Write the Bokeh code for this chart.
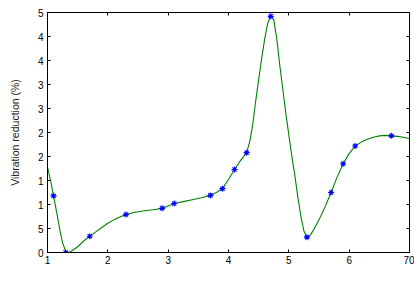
from bokeh.plotting import figure
from bokeh.models import LinearAxis, FixedTicker, Range1d, Label
from bokeh.embed import file_html
from bokeh.resources import INLINE

# measured points (markers)
freq_pts = [1.1, 1.3, 1.7, 2.3, 2.9, 3.1, 3.7, 3.9, 4.1, 4.3, 4.7, 5.3, 5.7, 5.9, 6.1, 6.7]
red_pts = [1.18, 0.0, 0.34, 0.79, 0.92, 1.02, 1.19, 1.33, 1.73, 2.08, 4.92, 0.32, 1.25, 1.85, 2.22, 2.43]

# fitted curve
freq_curve = [1.0, 1.05, 1.1, 1.15, 1.2, 1.25, 1.3, 1.35, 1.4, 1.5, 1.6, 1.7, 1.8, 1.9, 2.0,
              2.1, 2.2, 2.3, 2.45, 2.6, 2.75, 2.9, 3.0, 3.1, 3.25, 3.4, 3.55, 3.7, 3.8, 3.9,
              4.0, 4.1, 4.2, 4.3, 4.35, 4.4, 4.45, 4.5, 4.55, 4.6, 4.65, 4.7, 4.75, 4.8, 4.85,
              4.9, 4.95, 5.0, 5.05, 5.1, 5.15, 5.2, 5.25, 5.3, 5.35, 5.4, 5.5, 5.6, 5.7, 5.8,
              5.9, 6.0, 6.1, 6.2, 6.3, 6.4, 6.5, 6.6, 6.7, 6.8, 6.9, 7.0]
red_curve = [1.78, 1.5, 1.18, 0.85, 0.5, 0.2, 0.03, 0.0, 0.03, 0.12, 0.24, 0.34, 0.43, 0.52, 0.61,
             0.68, 0.74, 0.79, 0.84, 0.87, 0.89, 0.92, 0.97, 1.02, 1.06, 1.10, 1.14, 1.19, 1.25, 1.33,
             1.52, 1.73, 1.92, 2.08, 2.3, 2.65, 3.15, 3.6, 4.05, 4.45, 4.78, 4.92, 4.85, 4.45, 3.9,
             3.4, 2.9, 2.45, 2.0, 1.6, 1.15, 0.75, 0.45, 0.32, 0.35, 0.45, 0.68, 0.95, 1.25, 1.57,
             1.85, 2.06, 2.22, 2.3, 2.36, 2.4, 2.43, 2.44, 2.43, 2.42, 2.4, 2.37]

x_ticks = [1, 2, 3, 4, 5, 6, 7]
x_tick_labels = ["1", "2", "3", "4", "5", "6", "70"]
y_ticks = [0, 0.5, 1, 1.5, 2, 2.5, 3, 3.5, 4, 4.5, 5]
y_tick_labels = ["0", "5", "1", "1", "2", "2", "3", "3", "4", "4", "5"]

FONT = "Liberation Sans"

p = figure(width=414, height=282, output_backend="svg", toolbar_location=None,
           x_range=Range1d(1, 7), y_range=Range1d(0, 5),
           min_border_left=47, min_border_right=5, min_border_top=12, min_border_bottom=30,
           x_axis_location=None, y_axis_location=None)
p.grid.visible = False
p.outline_line_color = "black"
p.outline_line_width = 1
p.background_fill_color = "white"
p.border_fill_color = "white"

def style(ax, show_labels, ticks):
    ax.axis_line_color = "black"
    ax.axis_line_width = 1
    ax.major_tick_in = 3
    ax.major_tick_out = 0
    ax.minor_tick_in = 0
    ax.minor_tick_out = 0
    ax.major_tick_line_color = "black"
    ax.major_label_text_font = FONT
    ax.major_label_text_color = "black"
    ax.major_label_text_font_size = "10px"
    if not show_labels:
        ax.major_label_overrides = {t: "" for t in ticks}
        ax.major_label_standoff = 0

xb = LinearAxis(ticker=FixedTicker(ticks=x_ticks))
style(xb, True, x_ticks)
xb.major_label_overrides = {t: l for t, l in zip(x_ticks, x_tick_labels)}
xb.major_label_standoff = 3
p.add_layout(xb, "below")

xt = LinearAxis(ticker=FixedTicker(ticks=x_ticks))
style(xt, False, x_ticks)
p.add_layout(xt, "above")

yl = LinearAxis(ticker=FixedTicker(ticks=y_ticks))
style(yl, True, y_ticks)
yl.major_label_overrides = {t: l for t, l in zip(y_ticks, y_tick_labels)}
yl.major_label_standoff = 4
yl.axis_label = "Vibration reduction (%)"
yl.axis_label_text_font = FONT
yl.axis_label_text_font_size = "10.5px"
yl.axis_label_text_font_style = "normal"
yl.axis_label_text_color = "#222222"
yl.axis_label_standoff = 14
p.add_layout(yl, "left")

yr = LinearAxis(ticker=FixedTicker(ticks=y_ticks))
style(yr, False, y_ticks)
p.add_layout(yr, "right")

p.line(freq_curve, red_curve, line_color="#008000", line_width=1.1)
p.scatter(freq_pts, red_pts, marker="asterisk", size=6, line_color="#0000ff", line_width=1.1)

p.add_layout(Label(x=4.15, y=-0.44, text="Frequency(Hz)", text_font=FONT,
                   text_font_size="10px", text_align="center", text_baseline="middle",
                   text_color="#222222"))

open("out.html", "w").write(file_html(p, INLINE))
